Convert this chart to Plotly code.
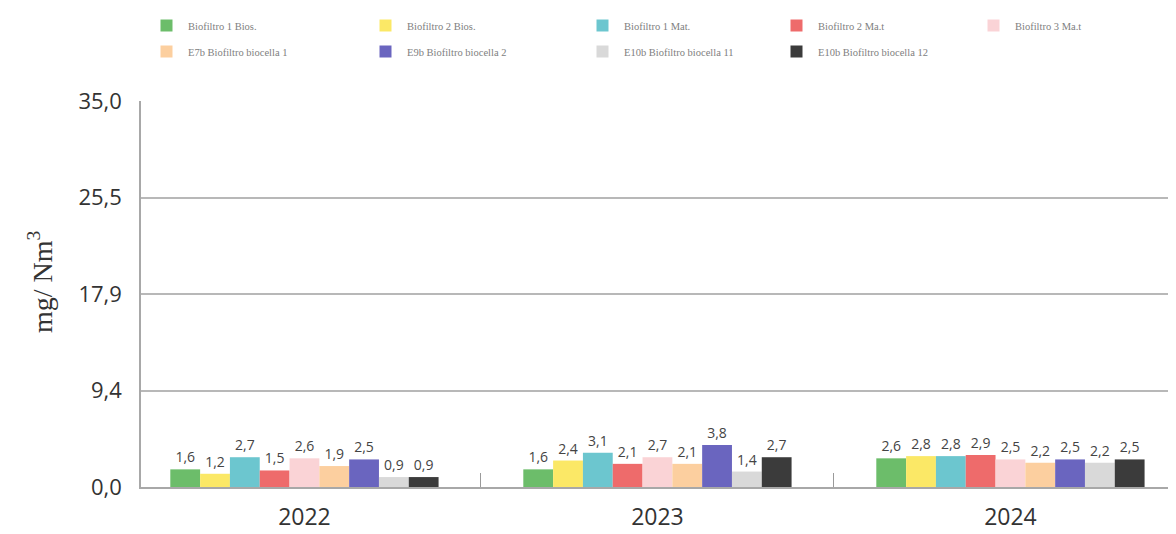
import plotly.graph_objects as go
import numpy as np

years = ["2022", "2023", "2024"]
series_names = [
    "Biofiltro 1 Bios.", "Biofiltro 2 Bios.", "Biofiltro 1 Mat.", "Biofiltro 2 Ma.t",
    "Biofiltro 3 Ma.t", "E7b Biofiltro biocella 1", "E9b Biofiltro biocella 2",
    "E10b Biofiltro biocella 11", "E10b Biofiltro biocella 12",
]
bio1_bios = [1.6, 1.6, 2.6]
bio2_bios = [1.2, 2.4, 2.8]
bio1_mat = [2.7, 3.1, 2.8]
bio2_mat = [1.5, 2.1, 2.9]
bio3_mat = [2.6, 2.7, 2.5]
e7b_bc1 = [1.9, 2.1, 2.2]
e9b_bc2 = [2.5, 3.8, 2.5]
e10b_bc11 = [0.9, 1.4, 2.2]
e10b_bc12 = [0.9, 2.7, 2.5]
values = [bio1_bios, bio2_bios, bio1_mat, bio2_mat, bio3_mat, e7b_bc1, e9b_bc2, e10b_bc11, e10b_bc12]
colors = ["#6cbd6a", "#fbe866", "#6cc6cf", "#ee6b6b", "#fad3d6",
          "#fccf9f", "#6a65bf", "#d9d9d9", "#3b3b3b"]
y_tick_text = ["0,0", "9,4", "17,9", "25,5", "35,0"]
y_title = "mg/ Nm<sup>3</sup>"
y_max = 35.0

# page offset caused by the default 8px body margin of the html page
OFF = 8
legend_names = ["legend", "legend2", "legend3", "legend4", "legend5"]
legend_cols_px = [156, 375, 592, 786, 983]

fig = go.Figure()
for i, (name, vals, col) in enumerate(zip(series_names, values, colors)):
    fig.add_trace(go.Bar(
        x=years, y=vals, name=name,
        marker=dict(color=col, line=dict(width=0)),
        texttemplate="%{y:.1f}", textposition="outside",
        textfont=dict(family="Open Sans", size=14, color="#444444"),
        cliponaxis=False,
        legend=legend_names[i % 5], legendgroup=f"g{i}",
    ))

W, H = 1176 - OFF, 534 - OFF
legend_common = dict(
    orientation="v", xref="container", yref="container",
    xanchor="left", yanchor="top",
    font=dict(family="Liberation Serif", size=10.5, color="#808080"),
    itemwidth=33, bgcolor="rgba(0,0,0,0)", tracegroupgap=7,
)
legends = {}
for name, px in zip(legend_names, legend_cols_px):
    legends[name] = dict(x=(px - OFF - 11) / W, y=1 - (11 - OFF) / H, **legend_common)

fig.update_layout(
    width=W, height=H,
    margin=dict(l=141 - OFF, r=0, t=101 - OFF, b=H - (487 - OFF), autoexpand=False),
    paper_bgcolor="white", plot_bgcolor="white",
    separators=", ",
    barmode="group", bargap=0.24, bargroupgap=0,
    xaxis=dict(
        type="category", range=[-0.463, 2.469],
        showline=True, linecolor="#a8a8a8", linewidth=1.5,
        ticks="inside", tickson="boundaries", ticklen=14, tickcolor="#9a9a9a", tickwidth=1.2,
        tickfont=dict(family="Open Sans", size=23, color="#333333"),
        ticklabelstandoff=9, showgrid=False,
    ),
    yaxis=dict(
        range=[0, y_max],
        tickvals=list(np.linspace(0, y_max, len(y_tick_text))), ticktext=y_tick_text,
        showgrid=True, gridcolor="#b8b8b8", gridwidth=1.5,
        showline=True, linecolor="#a8a8a8", linewidth=1.5,
        zeroline=False, ticks="",
        tickfont=dict(family="Open Sans", size=22, color="#333333"),
        ticklabelstandoff=13,
    ),
    annotations=[dict(
        text=y_title, xref="paper", yref="paper", x=0, y=0.5,
        xshift=-(141 - 40), yshift=12, textangle=-90, showarrow=False,
        xanchor="center", yanchor="middle",
        font=dict(family="Liberation Serif", size=28, color="#333333"),
    )],
    **legends,
)

fig.write_html("out.html")
